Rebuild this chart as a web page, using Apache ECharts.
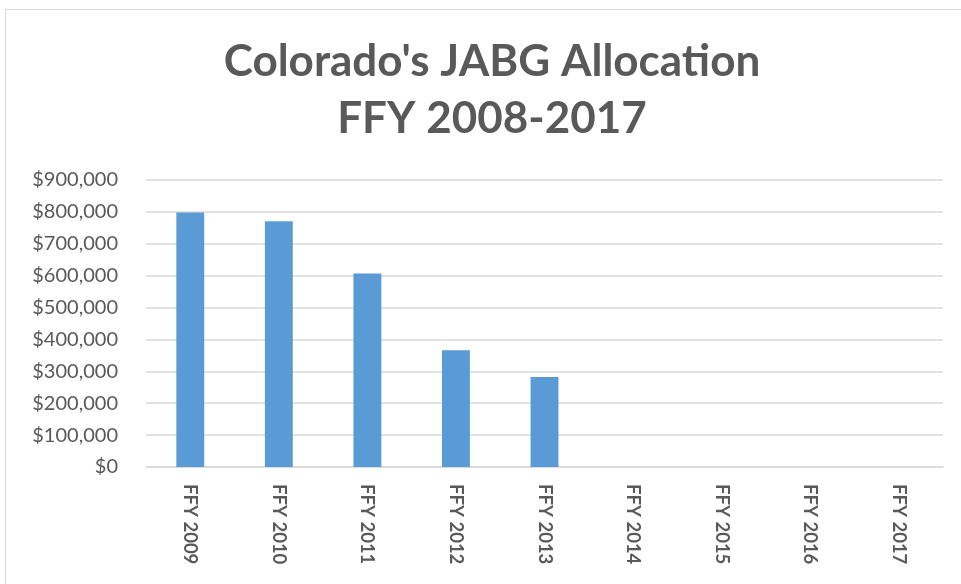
<!DOCTYPE html>
<html>
<head>
<meta charset="utf-8">
<script src="https://cdn.jsdelivr.net/npm/echarts@6/dist/echarts.min.js"></script>
<style>
  html, body { margin: 0; padding: 0; background: #fff; }
  #frame {
    position: absolute; left: 5px; top: 9px; width: 970px; height: 590px;
    border: 1px solid #d9d9d9; box-sizing: border-box;
  }
  #chart { position: absolute; left: 0; top: 0; width: 961px; height: 584px; }
</style>
</head>
<body>
<div id="frame"></div>
<div id="chart"></div>
<script>
// 各年度拨款
var years = ['FFY 2009', 'FFY 2010', 'FFY 2011', 'FFY 2012', 'FFY 2013',
  'FFY 2014', 'FFY 2015', 'FFY 2016', 'FFY 2017']
var allocation = [798000, 771000, 607000, 366000, 282000, 0, 0, 0, 0]
var yMax = 900000
var yStep = 100000

var myChart = echarts.init(document.getElementById('chart'))
var option = {
  animation: false,
  title: {
    text: "Colorado's JABG Allocation\nFFY 2008-2017",
    left: 487,
    textAlign: 'center',
    top: 28,
    textStyle: {
      color: '#595959',
      fontSize: 44,
      fontWeight: 'bold',
      fontFamily: 'Lato',
      lineHeight: 57
    }
  },
  grid: {
    left: 146,
    right: 18,
    top: 180,
    bottom: 117
  },
  xAxis: {
    type: 'category',
    data: years,
    axisLine: { lineStyle: { color: '#d9d9d9', width: 1.5 } },
    axisTick: { show: false },
    axisLabel: {
      rotate: -90,
      color: '#595959',
      fontSize: 18.5,
      fontWeight: 'bold',
      fontFamily: 'Lato',
      margin: 17
    }
  },
  yAxis: {
    type: 'value',
    min: 0,
    max: yMax,
    interval: yStep,
    axisLine: { show: false },
    axisTick: { show: false },
    axisLabel: {
      color: '#595959',
      fontSize: 20,
      fontFamily: 'Lato',
      margin: 28,
      formatter: function (v) {
        return '$' + v.toLocaleString('en-US')
      }
    },
    splitLine: { lineStyle: { color: '#d9d9d9', width: 1.5 } }
  },
  series: [{
    type: 'bar',
    data: allocation,
    barWidth: '31.5%',
    itemStyle: { color: '#5b9bd5' }
  }]
}
myChart.setOption(option)
</script>
</body>
</html>
